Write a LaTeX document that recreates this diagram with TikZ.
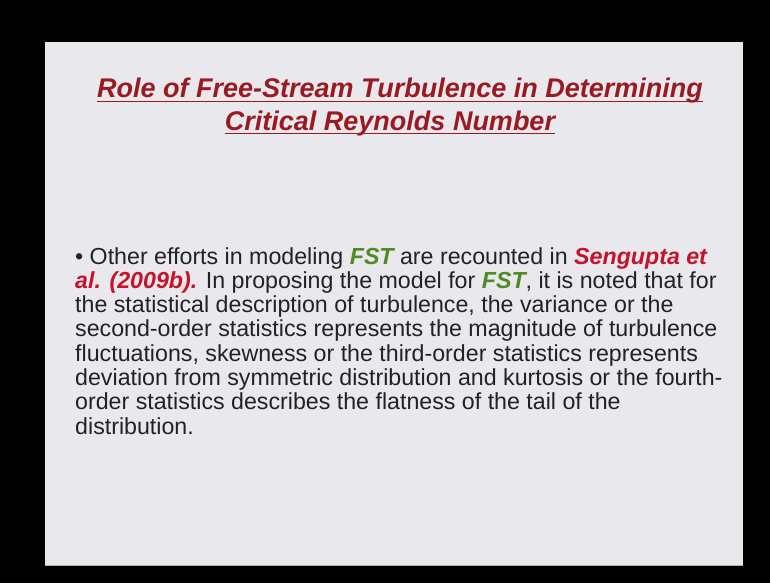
\documentclass[tikz,border=0pt]{standalone}
\usepackage{fontspec}
\setmainfont{Liberation Sans}
\definecolor{titlered}{HTML}{9A1A22}
\definecolor{refred}{HTML}{C4132B}
\definecolor{fstgreen}{HTML}{4F8A25}
\definecolor{bodytext}{HTML}{222224}
\definecolor{slidebg}{HTML}{E9E8ED}
\newcommand{\fstw}[1]{\textcolor{fstgreen}{\bfseries\itshape #1}}
\newcommand{\refw}[1]{\textcolor{refred}{\bfseries\itshape #1}}
\tikzset{
  titleline/.style={anchor=base, inner sep=0pt, text=titlered, font=\fontsize{27}{31}\selectfont\bfseries\itshape},
  titleul/.style={draw=titlered, line width=1.8pt},
  bodypara/.style={anchor=north west, inner sep=0pt, align=left, text=bodytext, font=\fontsize{23.2}{24.3}\selectfont}
}
\begin{document}
\begin{tikzpicture}[x=1pt,y=-1pt]
\fill[black] (0,0) rectangle (770,583);
\useasboundingbox (0,0) rectangle (770,583);
\fill[slidebg] (45,42) rectangle (743,565);
\draw[gray!60, line width=1pt] (45,565) -- (743,565);
\node[titleline] (t1) at (400,98) {Role of Free-Stream Turbulence in Determining};
\node[titleline] (t2) at (390,130) {Critical Reynolds Number};
\draw[titleul] ([yshift=-3.5pt]t1.base west) -- ([yshift=-3.5pt]t1.base east);
\draw[titleul] ([yshift=-3.5pt]t2.base west) -- ([yshift=-3.5pt]t2.base east);
\node[bodypara] (body) at (75,247) {%
• Other efforts in modeling \fstw{FST} are recounted in \refw{Sengupta et}\\
\refw{al. (2009b).} In proposing the model for \fstw{FST}, it is noted that for\\
the statistical description of turbulence, the variance or the\\
second-order statistics represents the magnitude of turbulence\\
fluctuations, skewness or the third-order statistics represents\\
deviation from symmetric distribution and kurtosis or the fourth-\\
order statistics describes the flatness of the tail of the\\
distribution.};
\end{tikzpicture}
\end{document}
